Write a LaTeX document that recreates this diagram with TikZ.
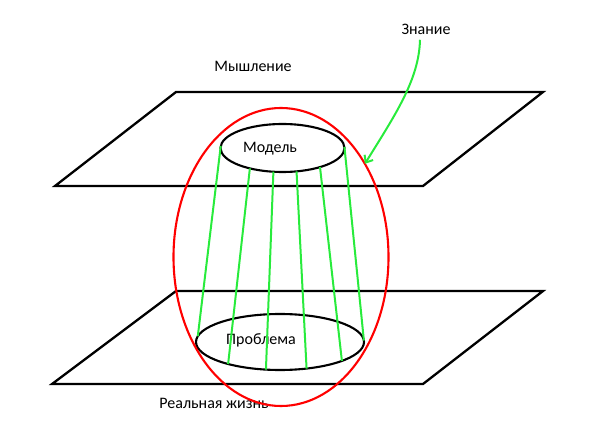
\documentclass[tikz,border=0pt]{standalone}
\usepackage{fontspec}
\setmainfont{Carlito}
\usepackage{xcolor}
\usetikzlibrary{arrows.meta, positioning, shapes.geometric}
\definecolor{knowgreen}{RGB}{40,235,60}

\begin{document}
\begin{tikzpicture}[x=1pt, y=1pt, font=\fontsize{16}{19}\selectfont,
    plane/.style={black, line width=2.3pt, line join=miter},
    oval/.style={ellipse, draw, line width=2.1pt, inner sep=0pt, outer sep=0pt},
    link/.style={knowgreen, line width=2pt}]
  \useasboundingbox (0,0) rectangle (591,420);
  % Planes
  \draw[plane] (176,328) -- (543,328) -- (423,234) -- (55,234) -- cycle;
  \draw[plane] (176,129) -- (543,129) -- (423,36) -- (52,36) -- cycle;
  % Labels
  \node (thinking) at (253,354) {Мышление};
  \node (life) at (214,17) {Реальная жизнь};
  \node (znanie) at (426,391) {Знание};
  % Model and problem
  \node[oval, minimum width=124pt, minimum height=48pt] (model) at (282.5,272) {};
  \node (modeltext) at (270,271) {Модель};
  \node[oval, minimum width=168pt, minimum height=56pt] (problem) at (280,78) {};
  \node (problemtext) at (261,80) {Проблема};
  % Green links
  \foreach \a/\b in {178/176, 212/203, 249/243, 301/315, 333/343, 1/1}
    \draw[link] (model.\a) -- (problem.\b);
  % Red knowledge oval
  \node[oval, draw=red, minimum width=215pt, minimum height=298pt] (knowledge) at (281,163) {};
  % Arrow
  \draw[link, -{Straight Barb[length=6pt, width=10pt]}] ([xshift=-6pt, yshift=-2pt]znanie.south)
    .. controls (419,340) and (395,305) .. (knowledge.48);
\end{tikzpicture}
\end{document}
